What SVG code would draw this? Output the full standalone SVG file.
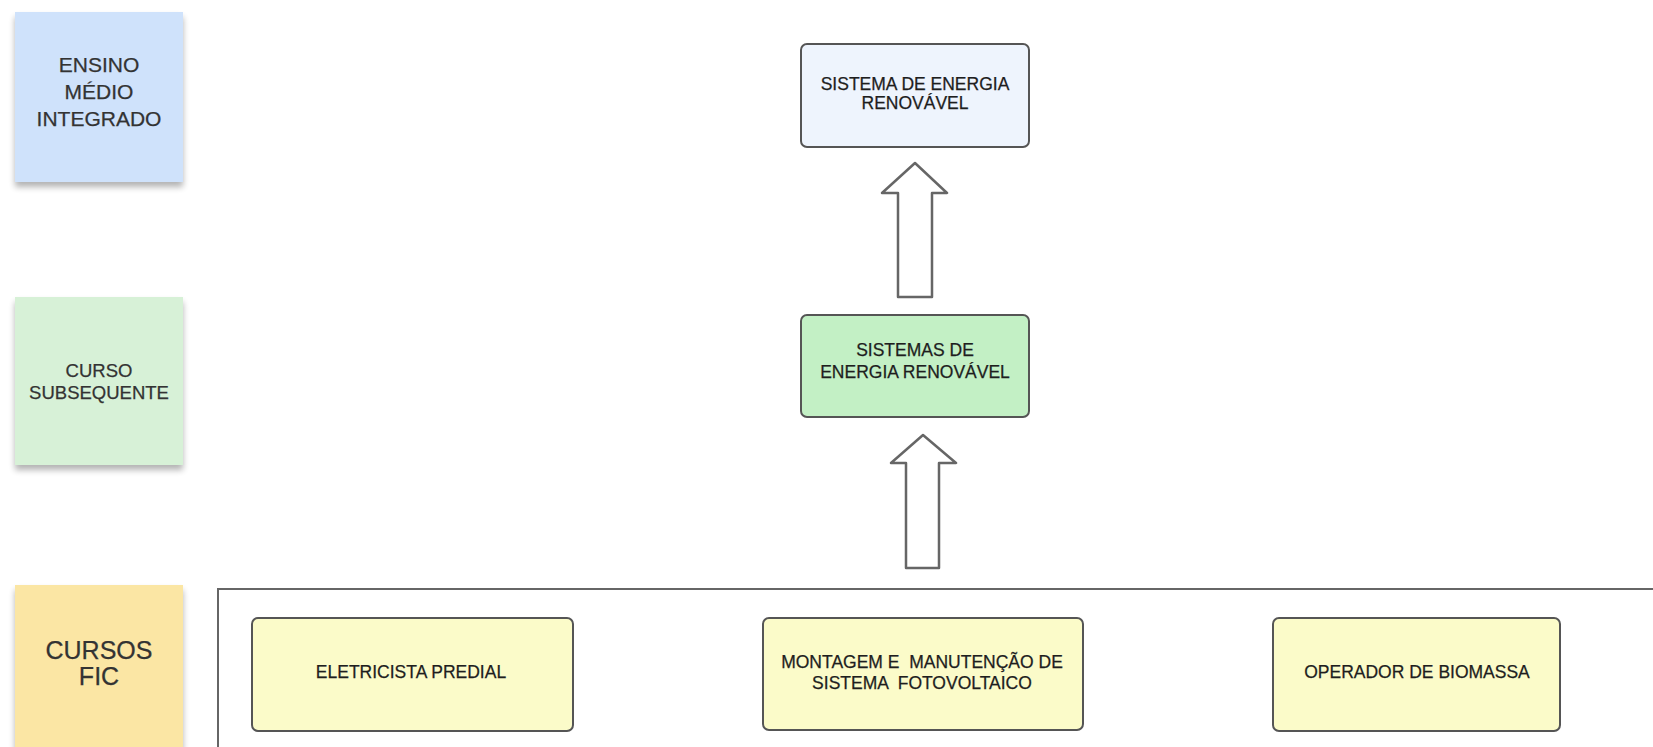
<svg xmlns="http://www.w3.org/2000/svg" width="1653" height="747" viewBox="0 0 1653 747">
<defs>
<filter id="sh" x="-10%" y="-10%" width="120%" height="130%">
<feGaussianBlur in="SourceAlpha" stdDeviation="3"/>
<feOffset dx="0" dy="5" result="b"/>
<feComponentTransfer><feFuncA type="linear" slope="0.3"/></feComponentTransfer>
<feMerge><feMergeNode/><feMergeNode in="SourceGraphic"/></feMerge>
</filter>
</defs>
<style>
text{font-family:"Liberation Sans",Arial,sans-serif;fill:#1e1e1e;stroke:#1e1e1e;stroke-width:0.25;text-anchor:middle;white-space:pre}
.note{font-size:21px;fill:#333;stroke:#333}
.box{stroke:#555;stroke-width:2}
.bt{font-size:17.5px}
.arrow{fill:#fff;stroke:#666;stroke-width:2.5;stroke-linejoin:round}
</style>
<rect width="1653" height="747" fill="#fff"/>
<g id="note-ensino">
<rect x="15" y="12" width="168" height="170" fill="#cfe2fb" filter="url(#sh)"/>
<text class="note" x="99" y="72">ENSINO</text>
<text class="note" x="99" y="99">MÉDIO</text>
<text class="note" x="99" y="126">INTEGRADO</text>
</g>
<g id="note-subsequente">
<rect x="15" y="297" width="168" height="168" fill="#d7f1d7" filter="url(#sh)"/>
<text class="note" style="font-size:18.5px" x="99" y="377">CURSO</text>
<text class="note" style="font-size:18.5px" x="99" y="399">SUBSEQUENTE</text>
</g>
<g id="note-fic">
<rect x="15" y="585" width="168" height="170" fill="#fbe6a4" filter="url(#sh)"/>
<text class="note" style="font-size:25px" x="99" y="659">CURSOS</text>
<text class="note" style="font-size:25px" x="99" y="685">FIC</text>
</g>
<g id="container">
<rect x="218" y="589" width="1460" height="200" fill="none" stroke="#666" stroke-width="2"/>
</g>
<g id="connectors">
<path class="arrow" d="M915 163 L947 193 L932 193 L932 297 L898 297 L898 193 L882 193 Z"/>
<path class="arrow" d="M923 435 L956 463 L939 463 L939 568 L906 568 L906 463 L891 463 Z"/>
</g>
<g id="node-sistema-energia">
<rect class="box" x="801" y="44" width="228" height="103" rx="6" fill="#eef4fd"/>
<text class="bt" x="915" y="90">SISTEMA DE ENERGIA</text>
<text class="bt" x="915" y="109">RENOVÁVEL</text>
</g>
<g id="node-sistemas-energia">
<rect class="box" x="801" y="315" width="228" height="102" rx="6" fill="#c3f0c5"/>
<text class="bt" x="915" y="356">SISTEMAS DE</text>
<text class="bt" x="915" y="378">ENERGIA RENOVÁVEL</text>
</g>
<g id="node-eletricista">
<rect class="box" x="252" y="618" width="321" height="113" rx="6" fill="#fbfbc9"/>
<text class="bt" x="411" y="678">ELETRICISTA PREDIAL</text>
</g>
<g id="node-montagem">
<rect class="box" x="763" y="618" width="320" height="112" rx="6" fill="#fbfbc9"/>
<text class="bt" x="922" y="668">MONTAGEM E  MANUTENÇÃO DE</text>
<text class="bt" x="922" y="689">SISTEMA  FOTOVOLTAICO</text>
</g>
<g id="node-operador">
<rect class="box" x="1273" y="618" width="287" height="113" rx="6" fill="#fbfbc9"/>
<text class="bt" x="1417" y="678">OPERADOR DE BIOMASSA</text>
</g>
</svg>
